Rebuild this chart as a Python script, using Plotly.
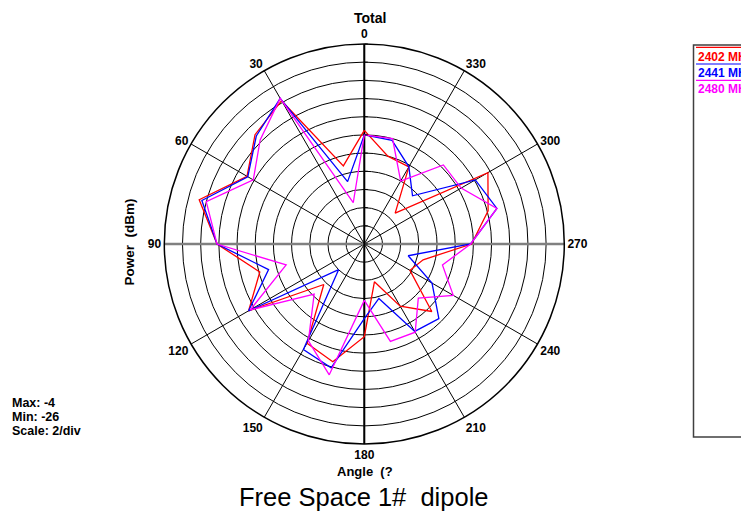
import plotly.graph_objects as go

W, H = 749, 519
OFF = 8  # page body margin of the browser

angles = [0, 15, 30, 45, 60, 75, 90, 105, 120, 135, 150, 165,
          180, 195, 210, 225, 240, 255, 270, 285, 300, 315, 330, 345]

p2402 = [-13.5, -17.1, -7.8, -9.0, -11.1, -7.2, -9.8, -14.1, -11.3, -19.7, -13.4, -12.6,
         -15.8, -21.7, -18.1, -15.5, -20.2, -19.3, -14.2, -11.9, -10.3, -21.2, -16.2, -16.0]
p2441 = [-14.0, -18.9, -7.5, -9.2, -11.2, -7.5, -9.8, -15.1, -11.3, -22.0, -12.6, -11.9,
         -17.8, -19.8, -14.9, -14.4, -17.4, -21.0, -14.3, -10.9, -11.9, -18.5, -16.2, -14.2]
p2480 = [-14.0, -21.3, -7.5, -9.8, -11.9, -8.0, -9.8, -17.1, -11.5, -18.2, -13.7, -11.1,
         -19.8, -14.9, -14.8, -17.6, -14.7, -17.1, -14.3, -10.9, -13.7, -13.7, -18.0, -14.0]

series_names = ["2402 MHz", "2441 MHz", "2480 MHz"]
series_colors = ["#ff0000", "#0000ff", "#ff00ff"]
series_values = [p2402, p2441, p2480]

r_min, r_max, r_step = -26, -4, 2
tick_angles = [0, 30, 60, 90, 120, 150, 180, 210, 240, 270, 300, 330]
tick_labels = [str(a) for a in tick_angles]

FONT = "Arial, Liberation Sans, sans-serif"

fig = go.Figure()

# main axes (thicker lines through centre)
fig.add_trace(go.Scatterpolar(r=[r_max, r_min, r_max], theta=[90, 90, 270], mode="lines",
                              line=dict(color="#808080", width=2.5), hoverinfo="skip",
                              showlegend=False))
fig.add_trace(go.Scatterpolar(r=[r_max, r_min, r_max], theta=[0, 0, 180], mode="lines",
                              line=dict(color="#000000", width=2), hoverinfo="skip",
                              showlegend=False))

for name, col, vals in zip(series_names, series_colors, series_values):
    fig.add_trace(go.Scatterpolar(r=vals + [vals[0]], theta=angles + [angles[0]],
                                  mode="lines", name=name,
                                  line=dict(color=col, width=1.3), showlegend=False))

cx, cy, rad = 364.3 - OFF, 244 - OFF, 200
fig.update_layout(
    width=W, height=H,
    margin=dict(l=0, r=0, t=0, b=0),
    paper_bgcolor="white",
    showlegend=False,
    polar=dict(
        domain=dict(x=[(cx - rad) / W, (cx + rad) / W],
                    y=[1 - (cy + rad) / H, 1 - (cy - rad) / H]),
        bgcolor="white",
        radialaxis=dict(range=[r_min, r_max], dtick=r_step, tick0=r_min,
                        showticklabels=False, ticks="outside", ticklen=3,
                        tickcolor="black", angle=90, showline=False,
                        gridcolor="black", gridwidth=1.2),
        angularaxis=dict(rotation=90, direction="counterclockwise",
                         tickmode="array", tickvals=tick_angles, ticktext=tick_labels,
                         ticks="", showline=True, linecolor="black", linewidth=1.5,
                         gridcolor="black", gridwidth=1.2,
                         tickfont=dict(family=FONT, size=12, color="black", weight="bold")),
    ),
)

def px_x(x):
    return (x - OFF) / W

def px_y(y):
    return 1 - (y - OFF) / H

ann = []
ann.append(dict(text="Total", x=px_x(370), y=px_y(8), yanchor="top",
                font=dict(size=14, weight="bold")))
ann.append(dict(text="Angle  (?", x=px_x(365), y=px_y(471), font=dict(size=13, weight="bold")))
ann.append(dict(text="Free Space 1#\u00a0 dipole", x=px_x(364), y=px_y(497),
                font=dict(size=25.5)))
ann.append(dict(text="Power  (dBm)", x=px_x(119), y=px_y(242), textangle=-90,
                font=dict(size=13.5, weight="bold")))
for i, t in enumerate(["Max: -4", "Min: -26", "Scale: 2/div"]):
    ann.append(dict(text=t, x=px_x(10), y=px_y(403 + 14 * i), xanchor="left",
                    font=dict(size=12.5, weight="bold")))

shapes = [dict(type="rect", xref="paper", yref="paper", x0=px_x(693.5), x1=px_x(770),
               y0=px_y(437), y1=px_y(45), line=dict(color="#404040", width=1.5))]
leg_line_y = [47.3, 64, 80.3]
leg_text_y = [56.7, 73.3, 89.3]
for name, col, ly, ty in zip(series_names, series_colors, leg_line_y, leg_text_y):
    shapes.append(dict(type="line", xref="paper", yref="paper", x0=px_x(696), x1=px_x(770),
                       y0=px_y(ly), y1=px_y(ly), line=dict(color=col, width=1.2)))
    ann.append(dict(text=name, x=px_x(696), y=px_y(ty), xanchor="left",
                    font=dict(size=12, weight="bold", color=col)))

for a in ann:
    a.setdefault("xref", "paper")
    a.setdefault("yref", "paper")
    a.setdefault("showarrow", False)
    a.setdefault("yanchor", "middle")
    a["font"].setdefault("family", FONT)
    a["font"].setdefault("color", "black")
fig.update_layout(annotations=ann, shapes=shapes)

fig.write_html("out.html")
